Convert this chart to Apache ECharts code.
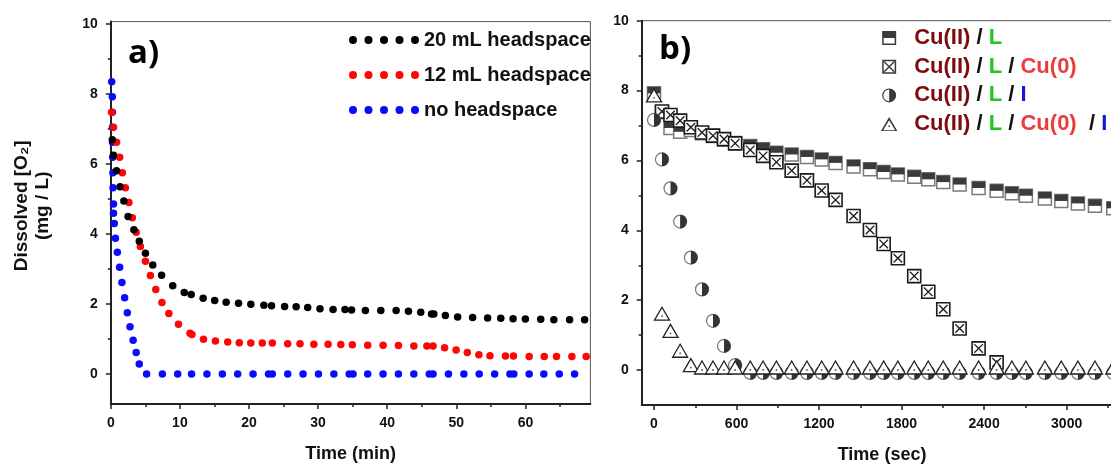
<!DOCTYPE html>
<html>
<head>
<meta charset="utf-8">
<script src="https://cdn.jsdelivr.net/npm/echarts@6/dist/echarts.min.js"></script>
<style>
html, body { margin: 0; padding: 0; background: #fff; }
#main { width: 1111px; height: 466px; }
</style>
</head>
<body>
<div id="main"></div>
<script>
// ---- panel a) : dissolved O2 vs time (min)
var blackT = [0.22, 0.39, 0.83, 1.34, 1.89, 2.50, 3.34, 4.12, 5.01, 6.07, 7.35, 8.96, 10.63, 11.63, 13.36, 15.03, 16.69, 18.48, 20.26, 22.15, 23.26, 25.15, 26.82, 28.49, 30.27, 32.16, 33.89, 34.84, 36.84, 39.07, 41.29, 43.07, 44.85, 46.41, 46.74, 48.41, 50.19, 52.36, 54.53, 56.43, 58.21, 59.99, 62.21, 64.11, 66.39, 68.56];
var blackV = [6.69, 6.25, 5.81, 5.35, 4.94, 4.50, 4.12, 3.79, 3.45, 3.11, 2.82, 2.52, 2.33, 2.27, 2.16, 2.10, 2.05, 2.02, 1.99, 1.96, 1.95, 1.93, 1.92, 1.90, 1.86, 1.84, 1.84, 1.83, 1.81, 1.81, 1.81, 1.79, 1.76, 1.71, 1.71, 1.67, 1.63, 1.61, 1.60, 1.59, 1.58, 1.57, 1.56, 1.55, 1.55, 1.55];

var redT = [0.11, 0.39, 0.83, 1.28, 1.67, 2.11, 2.62, 3.12, 3.67, 4.28, 5.01, 5.73, 6.51, 7.40, 8.40, 9.79, 11.46, 11.74, 13.41, 15.14, 16.92, 18.59, 20.26, 21.92, 23.37, 25.60, 27.38, 29.38, 31.44, 33.28, 34.95, 37.17, 39.40, 41.62, 43.85, 45.74, 46.63, 48.30, 49.97, 51.59, 53.26, 54.87, 57.10, 58.26, 60.54, 62.72, 64.50, 66.72, 68.78];
var redV = [7.48, 7.05, 6.62, 6.19, 5.75, 5.32, 4.90, 4.46, 4.05, 3.64, 3.22, 2.81, 2.41, 2.04, 1.73, 1.42, 1.16, 1.13, 0.99, 0.94, 0.91, 0.89, 0.88, 0.88, 0.88, 0.86, 0.86, 0.85, 0.85, 0.84, 0.83, 0.82, 0.82, 0.81, 0.80, 0.80, 0.80, 0.75, 0.68, 0.61, 0.55, 0.52, 0.51, 0.51, 0.50, 0.50, 0.50, 0.50, 0.50];

var blueT = [0.13, 0.22, 0.22, 0.25, 0.25, 0.28, 0.30, 0.33, 0.39, 0.39, 0.50, 0.67, 0.95, 1.28, 1.61, 2.00, 2.39, 2.78, 3.23, 3.67, 4.12, 5.18, 7.46, 9.68, 11.69, 13.91, 16.14, 18.36, 20.59, 22.82, 23.37, 25.60, 27.82, 30.05, 32.28, 34.50, 35.06, 37.17, 39.40, 41.62, 43.85, 46.08, 46.63, 48.86, 51.09, 53.31, 55.54, 57.76, 58.32, 60.54, 62.66, 64.89, 67.11];
var blueV = [8.35, 7.92, 7.48, 7.05, 6.62, 6.19, 5.75, 5.32, 4.86, 4.59, 4.30, 3.88, 3.48, 3.05, 2.61, 2.18, 1.75, 1.35, 0.96, 0.61, 0.28, 0, 0, 0, 0, 0, 0, 0, 0, 0, 0, 0, 0, 0, 0, 0, 0, 0, 0, 0, 0, 0, 0, 0, 0, 0, 0, 0, 0, 0, 0, 0, 0];

var aNames = ['20 mL headspace', '12 mL headspace', 'no headspace'];
var aXTicks = [0, 10, 20, 30, 40, 50, 60];
var aXMinor = [5, 15, 25, 35, 45, 55, 65];
var aYTicks = [0, 2, 4, 6, 8, 10];
var aYMinor = [1, 3, 5, 7, 9];

// ---- panel b) : time (sec)
var bT = [0, 58, 120, 190, 268, 349, 429, 509, 590, 700, 793, 890, 1001, 1112, 1219, 1320, 1451, 1570, 1670, 1773, 1892, 1994, 2103, 2222, 2360, 2491, 2602, 2704, 2842, 2961, 3082, 3206, 3339];
var cuL = [7.92, 7.38, 6.93, 6.82, 6.87, 6.78, 6.70, 6.60, 6.50, 6.41, 6.32, 6.22, 6.17, 6.10, 6.03, 5.93, 5.83, 5.75, 5.67, 5.60, 5.53, 5.46, 5.38, 5.31, 5.21, 5.13, 5.06, 4.99, 4.91, 4.84, 4.77, 4.70, 4.63];
var cuLCu0 = [null, 7.40, 7.30, 7.14, 6.95, 6.80, 6.71, 6.61, 6.49, 6.30, 6.13, 5.95, 5.71, 5.43, 5.14, 4.87, 4.41, 4.01, 3.61, 3.20, 2.69, 2.24, 1.74, 1.19, 0.62, 0.22, null, null, null, null, null, null, null];
var cuLI = [7.16, 6.03, 5.20, 4.25, 3.22, 2.31, 1.41, 0.69, 0.14, -0.08, -0.08, -0.08, -0.08, -0.08, -0.08, -0.08, -0.08, -0.08, -0.08, -0.08, -0.08, -0.08, -0.08, -0.08, -0.08, -0.08, -0.08, -0.08, -0.08, -0.08, -0.08, -0.08, -0.08];
var cuLCu0I = [7.82, 1.57, 1.08, 0.51, 0.10, 0.03, 0.03, 0.03, 0.03, 0.03, 0.03, 0.03, 0.03, 0.03, 0.03, 0.03, 0.03, 0.03, 0.03, 0.03, 0.03, 0.03, 0.03, 0.03, 0.03, 0.03, 0.03, 0.03, 0.03, 0.03, 0.03, 0.03, 0.03];

var bNames = ['Cu(II) / L', 'Cu(II) / L / Cu(0)', 'Cu(II) / L / I', 'Cu(II) / L / Cu(0)  / I'];
var bLabels = [
    '{r|Cu(II)}{k| / }{g|L}',
    '{r|Cu(II)}{k| / }{g|L}{k| / }{o|Cu(0)}',
    '{r|Cu(II)}{k| / }{g|L}{k| / }{b|I}',
    '{r|Cu(II)}{k| / }{g|L}{k| / }{o|Cu(0)}{k|  / }{b|I}'
];
var bXTicks = [0, 600, 1200, 1800, 2400, 3000];
var bXMinor = [300, 900, 1500, 2100, 2700, 3300];
var bYTicks = [0, 2, 4, 6, 8, 10];
var bYMinor = [1, 3, 5, 7, 9];

var FONT = "'Liberation Sans', Arial, sans-serif";

function pairs(t, v) {
    var out = [];
    for (var i = 0; i < t.length; i++) {
        if (v[i] !== null) out.push([t[i], v[i]]);
    }
    return out;
}

// axis helper: main axis has labels + major ticks, minor axis only short ticks
function axis(dim, grid, min, max, ticks, minor, extra) {
    var a = {
        type: 'value', gridIndex: grid, min: min, max: max,
        position: dim == 'x' ? 'bottom' : 'left',
        splitLine: { show: false },
        axisLine: { show: !minor, onZero: false, lineStyle: { color: '#222', width: 2 } },
        axisTick: { show: true, inside: false, length: minor ? 3 : 5, customValues: ticks, lineStyle: { color: '#222', width: 1.5 } },
        axisLabel: {
            show: !minor, customValues: ticks, margin: dim == 'x' ? 12 : 13,
            formatter: function (v) { return String(v); },
            fontFamily: FONT, fontWeight: 'bold', fontSize: 14, color: '#111'
        }
    };
    if (extra) for (var k in extra) a[k] = extra[k];
    return a;
}

var nameStyle = { fontFamily: FONT, fontWeight: 'bold', fontSize: 18, color: '#111' };

// markers for panel b
function halfSquare(params, api) {
    var p = api.coord([api.value(0), api.value(1)]);
    var s = 13;
    return { type: 'group', children: [
        { type: 'rect', shape: { x: p[0] - s / 2, y: p[1] - s / 2, width: s, height: s }, style: { fill: '#fff', stroke: '#7a7a7a', lineWidth: 1.5 } },
        { type: 'rect', shape: { x: p[0] - s / 2, y: p[1] - s / 2, width: s, height: s / 2 }, style: { fill: '#3b3b3b' } }
    ] };
}
function crossSquare(params, api) {
    var p = api.coord([api.value(0), api.value(1)]);
    var h = 6.5, d = 4.3;
    return { type: 'group', children: [
        { type: 'rect', shape: { x: p[0] - h, y: p[1] - h, width: 2 * h, height: 2 * h }, style: { fill: '#fff', stroke: '#1a1a1a', lineWidth: 1.6 } },
        { type: 'line', shape: { x1: p[0] - d, y1: p[1] - d, x2: p[0] + d, y2: p[1] + d }, style: { stroke: '#1a1a1a', lineWidth: 1.3 } },
        { type: 'line', shape: { x1: p[0] + d, y1: p[1] - d, x2: p[0] - d, y2: p[1] + d }, style: { stroke: '#1a1a1a', lineWidth: 1.3 } }
    ] };
}
function halfCircle(params, api) {
    var p = api.coord([api.value(0), api.value(1)]);
    return { type: 'group', children: [
        { type: 'circle', shape: { cx: p[0], cy: p[1], r: 6.5 }, style: { fill: '#fff', stroke: '#777', lineWidth: 1.2 } },
        { type: 'sector', shape: { cx: p[0], cy: p[1], r0: 0, r: 6.8, startAngle: -Math.PI / 2, endAngle: Math.PI / 2, clockwise: true }, style: { fill: '#333' } }
    ] };
}
function triangle(params, api) {
    var p = api.coord([api.value(0), api.value(1)]);
    return { type: 'group', children: [
        { type: 'polygon', shape: { points: [[p[0], p[1] - 8], [p[0] + 7.5, p[1] + 5], [p[0] - 7.5, p[1] + 5]] }, style: { fill: '#fff', stroke: '#222', lineWidth: 1.3 } },
        { type: 'circle', shape: { cx: p[0], cy: p[1] + 1, r: 0.9 }, style: { fill: '#555' } }
    ] };
}

var dotsIcon = 'path://M0,4A4,4 0 1,1 8,4A4,4 0 1,1 0,4Z M15.5,4A4,4 0 1,1 23.5,4A4,4 0 1,1 15.5,4Z M31,4A4,4 0 1,1 39,4A4,4 0 1,1 31,4Z M46.5,4A4,4 0 1,1 54.5,4A4,4 0 1,1 46.5,4Z M62,4A4,4 0 1,1 70,4A4,4 0 1,1 62,4Z';
var bIcons = [
    'path://M0,0L14,0L14,14L0,14Z M1.5,7L1.5,12.5L12.5,12.5L12.5,7Z',
    'path://M0,0L14,0L14,14L0,14Z M1.5,1.5L1.5,12.5L12.5,12.5L12.5,1.5Z M1.5,2.5L2.5,1.5L12.5,11.5L11.5,12.5Z M11.5,1.5L12.5,2.5L2.5,12.5L1.5,11.5Z',
    'path://M7,0A7,7 0 1,1 7,14A7,7 0 1,1 7,0Z M7,1.2A5.8,5.8 0 0,0 7,12.8L7,1.2Z',
    'path://M7,0L14,12L0,12Z M7,2.6L1.9,11.2L12.1,11.2Z M6.4,7.2L7.6,7.2L7.6,8.4L6.4,8.4Z'
];

var richB = {};
var richColors = { r: '#7d0b0b', k: '#111', g: '#1fc81f', o: '#ea3b3f', b: '#1616d6' };
for (var key in richColors) {
    richB[key] = { color: richColors[key], fontFamily: FONT, fontWeight: 'bold', fontSize: 22, lineHeight: 24 };
}

var myChart = echarts.init(document.getElementById('main'), null, { renderer: 'canvas' });

var option = {
    backgroundColor: '#fff',
    animation: false,
    grid: [
        { left: 110.8, top: 21.6, width: 479.6, height: 382.4, show: true, borderColor: '#555', borderWidth: 1, containLabel: false, outerBoundsMode: 'none' },
        { left: 641.7, top: 20.7, width: 493.7, height: 384.3, show: true, borderColor: '#555', borderWidth: 1, containLabel: false, outerBoundsMode: 'none' }
    ],
    xAxis: [
        axis('x', 0, 0, 69.4, aXTicks, false, { name: 'Time (min)', nameLocation: 'middle', nameGap: 41, nameTextStyle: nameStyle }),
        axis('x', 0, 0, 69.4, aXMinor, true),
        axis('x', 1, -89.4, 3500, bXTicks, false, { name: 'Time (sec)', nameLocation: 'middle', nameGap: 41, nameTextStyle: Object.assign({ padding: [0, 13, 0, 0] }, nameStyle) }),
        axis('x', 1, -89.4, 3500, bXMinor, true)
    ],
    yAxis: [
        axis('y', 0, -0.86, 10.07, aYTicks, false, {
            name: 'Dissolved [O\u2082]\n(mg / L)', nameLocation: 'middle', nameRotate: 90, nameGap: 58,
            nameTextStyle: { fontFamily: FONT, fontWeight: 'bold', fontSize: 19, lineHeight: 21, color: '#111', padding: [0, 0, 0, 14] }
        }),
        axis('y', 0, -0.86, 10.07, aYMinor, true),
        axis('y', 1, -1, 10, bYTicks, false),
        axis('y', 1, -1, 10, bYMinor, true)
    ],
    legend: [
        {
            orient: 'vertical', left: 344, top: 25, itemWidth: 70, itemHeight: 8, itemGap: 15,
            selectedMode: false, icon: dotsIcon,
            textStyle: { fontFamily: FONT, fontWeight: 'bold', fontSize: 20, lineHeight: 20, color: '#111' },
            data: aNames
        },
        {
            orient: 'vertical', left: 876, top: 22, itemWidth: 40, itemHeight: 14, itemGap: 6.7,
            selectedMode: false,
            textStyle: { rich: richB },
            formatter: function (name) { return bLabels[bNames.indexOf(name)]; },
            data: bNames.map(function (n, i) {
                return { name: n, icon: bIcons[i], itemStyle: { color: '#3a3a3a', borderWidth: 0 } };
            })
        }
    ],
    graphic: [
        { type: 'text', left: 128, top: 37, style: { text: 'a)', font: "bold 33px 'Open Sans', sans-serif", fill: '#000' } },
        { type: 'text', left: 659, top: 33, style: { text: 'b)', font: "bold 33px 'Open Sans', sans-serif", fill: '#000' } }
    ],
    series: [
        { name: aNames[2], type: 'scatter', xAxisIndex: 0, yAxisIndex: 0, symbolSize: 7.5, itemStyle: { color: '#0a0aff', opacity: 1 }, data: pairs(blueT, blueV) },
        { name: aNames[1], type: 'scatter', xAxisIndex: 0, yAxisIndex: 0, symbolSize: 7.5, itemStyle: { color: '#ff0505', opacity: 1 }, data: pairs(redT, redV) },
        { name: aNames[0], type: 'scatter', xAxisIndex: 0, yAxisIndex: 0, symbolSize: 7.5, itemStyle: { color: '#000', opacity: 1 }, data: pairs(blackT, blackV) },
        { name: bNames[0], type: 'custom', xAxisIndex: 2, yAxisIndex: 2, renderItem: halfSquare, encode: { x: 0, y: 1 }, data: pairs(bT, cuL) },
        { name: bNames[1], type: 'custom', xAxisIndex: 2, yAxisIndex: 2, renderItem: crossSquare, encode: { x: 0, y: 1 }, data: pairs(bT, cuLCu0) },
        { name: bNames[2], type: 'custom', xAxisIndex: 2, yAxisIndex: 2, renderItem: halfCircle, encode: { x: 0, y: 1 }, data: pairs(bT, cuLI) },
        { name: bNames[3], type: 'custom', xAxisIndex: 2, yAxisIndex: 2, renderItem: triangle, encode: { x: 0, y: 1 }, data: pairs(bT, cuLCu0I) }
    ]
};

myChart.setOption(option);

window.addEventListener('resize', function () {
    myChart.resize();
});
</script>
</body>
</html>
